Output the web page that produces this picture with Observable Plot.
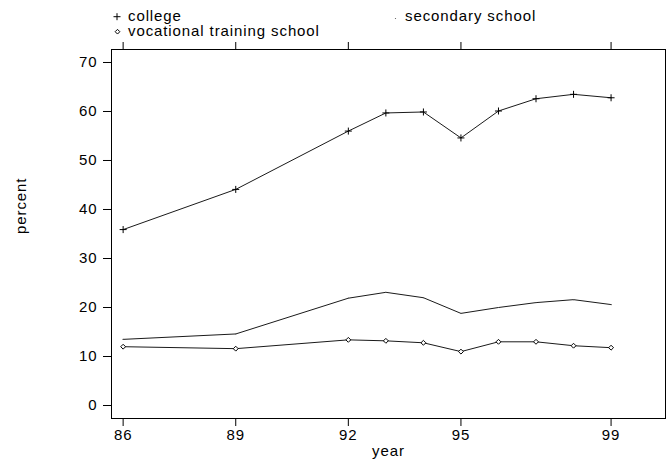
<!DOCTYPE html>
<html>
<head>
<meta charset="utf-8">
<script src="https://cdn.jsdelivr.net/npm/d3@7"></script>
<script src="https://cdn.jsdelivr.net/npm/@observablehq/plot@0.6"></script>
<style>
  body { margin: 0; background: white; }
  #wrap { width: 666px; font-family: "Liberation Sans", Arial, sans-serif; }
  #legend text { font-size: 15px; letter-spacing: 0.9px; fill: black; }
</style>
</head>
<body>
<div id="wrap"></div>
<script>
const years = [86, 89, 92, 93, 94, 95, 96, 97, 98, 99];
const college = [35.9, 44.1, 56.0, 59.7, 59.9, 54.6, 60.1, 62.6, 63.5, 62.8];
const secondary = [13.5, 14.6, 21.9, 23.1, 22.0, 18.8, 20.0, 21.0, 21.6, 20.6];
const vocational = [12.0, 11.6, 13.4, 13.2, 12.8, 11.0, 13.0, 13.0, 12.2, 11.8];
const seriesNames = ["college", "secondary school", "vocational training school"];
const xTicks = [86, 89, 92, 95, 99];
const yTicks = [0, 10, 20, 30, 40, 50, 60, 70];

const rows = [];
[college, secondary, vocational].forEach((vals, i) => {
  vals.forEach((v, j) => rows.push({series: seriesNames[i], year: years[j], value: v}));
});
const bySeries = name => rows.filter(d => d.series === name);

const wrap = document.getElementById("wrap");

// Legend (above the chart)
const legend = d3.create("svg").attr("id", "legend").attr("width", 666).attr("height", 40).style("display", "block");
const items = [
  {name: seriesNames[0], sx: 117, sy: 16.7, tx: 128, ty: 20.7, sym: "plus"},
  {name: seriesNames[1], sx: 395.5, sy: 18.5, tx: 405, ty: 20.7, sym: "dot"},
  {name: seriesNames[2], sx: 117.5, sy: 31.7, tx: 128, ty: 36, sym: "diamond"}
];
for (const it of items) {
  const g = legend.append("g");
  if (it.sym === "plus") {
    g.append("path").attr("transform", `translate(${it.sx},${it.sy})`)
      .attr("d", d3.symbol(d3.symbolPlus, 18)()).attr("fill", "none").attr("stroke", "black").attr("stroke-width", 1);
  } else if (it.sym === "diamond") {
    g.append("path").attr("transform", `translate(${it.sx},${it.sy})`)
      .attr("d", d3.symbol(d3.symbolDiamond2, 14)()).attr("fill", "white").attr("stroke", "black").attr("stroke-width", 1);
  } else {
    g.append("circle").attr("cx", it.sx).attr("cy", it.sy).attr("r", 0.6).attr("fill", "#555");
  }
  g.append("text").attr("x", it.tx).attr("y", it.ty).text(it.name);
}
wrap.appendChild(legend.node());

const chart = Plot.plot({
  width: 666,
  height: 420,
  marginTop: 9,
  marginBottom: 42,
  marginLeft: 111,
  marginRight: 1,
  x: {domain: [85.69, 100.45]},
  y: {domain: [-2.65, 72.65]},
  style: {fontFamily: "'Liberation Sans', Arial, sans-serif", fontSize: "15px", letterSpacing: "0.9px", color: "black", background: "white", overflow: "visible"},
  marks: [
    Plot.frame({stroke: "black", strokeWidth: 1}),
    Plot.axisY(yTicks, {tickSize: 8, tickPadding: 6, label: null, stroke: "black", strokeOpacity: 1}),
    Plot.axisX(xTicks, {anchor: "bottom", tickSize: 8, tickPadding: 3, label: null, stroke: "black", strokeOpacity: 1}),
    Plot.axisX(xTicks, {anchor: "top", tickSize: 8, tickFormat: () => "", label: null, stroke: "black", strokeOpacity: 1}),
    Plot.line(rows, {x: "year", y: "value", z: "series", stroke: "#1a1a1a", strokeWidth: 1}),
    Plot.dot(bySeries(seriesNames[0]), {x: "year", y: "value", symbol: "plus", r: 2.4, stroke: "black", strokeWidth: 1}),
    Plot.dot(bySeries(seriesNames[1]), {x: "year", y: "value", r: 0.6, fill: "#555"}),
    Plot.dot(bySeries(seriesNames[2]), {x: "year", y: "value", symbol: "diamond2", r: 2.2, stroke: "black", fill: "white", strokeWidth: 1}),
    Plot.text(["year"], {frameAnchor: "bottom", dy: 32.7, lineAnchor: "middle", fill: "black"}),
    Plot.text(["percent"], {frameAnchor: "left", dx: -90, rotate: -90, fill: "black"})
  ]
});
chart.style.display = "block";
wrap.appendChild(chart);
</script>
</body>
</html>
